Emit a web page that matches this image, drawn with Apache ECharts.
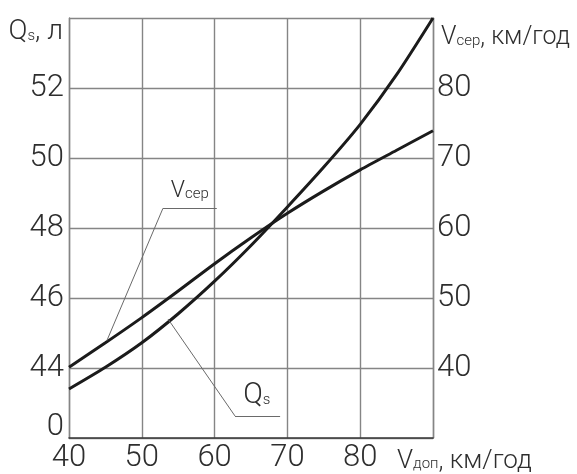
<!DOCTYPE html>
<html>
<head>
<meta charset="utf-8">
<script src="https://cdn.jsdelivr.net/npm/echarts@6/dist/echarts.min.js"></script>
<style>html,body{margin:0;padding:0;background:#fff}#c{width:577px;height:474px}</style>
</head>
<body>
<div id="c"></div>
<script>
// X values: Vдоп, км/год
const vDop = [40, 45, 50, 55, 60, 65, 70, 75, 80, 85, 90];
// Qs, л (left axis)
const qs = [43.4, 44.02, 44.72, 45.55, 46.48, 47.5, 48.6, 49.74, 50.96, 52.38, 54.0];
// Vсер, км/год (right axis)
const vSer = [40.1, 43.6, 47.2, 51.0, 54.9, 58.6, 62.1, 65.3, 68.3, 71.1, 73.9];
// tick labels
const xTickLabels = [40, 50, 60, 70, 80];
const qTickLabels = ['0', 44, 46, 48, 50, 52];
const vTickLabels = [40, 50, 60, 70, 80];

const FONT = "Roboto, 'DejaVu Sans Condensed', sans-serif";
const FW = 300;
const TXT = '#2e2e2e';
const GRID = '#858585';

const chart = echarts.init(document.getElementById('c'), null, {renderer: 'canvas'});
chart.setOption({
  animation: false,
  backgroundColor: '#fff',
  grid: {left: 69, right: 144, top: 18, bottom: 35, containLabel: false},
  xAxis: {
    type: 'value', min: 40, max: 90, interval: 10,
    axisLine: {show: true, lineStyle: {color: '#3a3a3a', width: 1.6}},
    axisTick: {show: false},
    splitLine: {show: true, lineStyle: {color: GRID, width: 1.4}},
    axisLabel: {
      showMaxLabel: false, margin: 5,
      color: TXT, fontFamily: FONT, fontWeight: FW, fontSize: 31,
      formatter: v => xTickLabels.includes(v) ? String(v) : ''
    },
    name: 'V{s|доп}, км/год',
    nameLocation: 'end', nameGap: -36,
    nameTextStyle: {
      color: TXT, fontFamily: FONT, fontWeight: FW, fontSize: 26,
      align: 'left', verticalAlign: 'top', padding: [10, 0, 0, 0],
      rich: {s: {fontSize: 15, fontFamily: FONT, fontWeight: FW, color: TXT, padding: [6, 0, 0, 0]}}
    }
  },
  yAxis: [
    {
      type: 'value', min: 42, max: 54, interval: 2, position: 'left',
      axisLine: {show: true, lineStyle: {color: GRID, width: 1.4}},
      axisTick: {show: false},
      splitLine: {show: true, lineStyle: {color: GRID, width: 1.4}},
      axisLabel: {
        showMaxLabel: false, margin: 5,
        color: TXT, fontFamily: FONT, fontWeight: FW, fontSize: 31,
        formatter: v => {
          const i = [42, 44, 46, 48, 50, 52].indexOf(v);
          if (i < 0) return '';
          return i === 0 ? '{z|' + qTickLabels[0] + '}' : String(qTickLabels[i]);
        },
        rich: {z: {fontSize: 31, fontFamily: FONT, fontWeight: FW, color: TXT, padding: [0, 0, 22, 0]}}
      },
      name: 'Q{s|s}, л',
      nameLocation: 'end', nameGap: -14,
      nameTextStyle: {
        color: TXT, fontFamily: FONT, fontWeight: FW, fontSize: 28,
        align: 'right', verticalAlign: 'middle', padding: [0, 6, 0, 0],
        rich: {s: {fontSize: 15, fontFamily: FONT, fontWeight: FW, color: TXT, padding: [8, 0, 0, 0]}}
      }
    },
    {
      type: 'value', min: 30, max: 90, interval: 10, position: 'right',
      axisLine: {show: true, lineStyle: {color: GRID, width: 1.4}},
      axisTick: {show: false},
      splitLine: {show: false},
      axisLabel: {
        showMaxLabel: false, margin: 4,
        color: TXT, fontFamily: FONT, fontWeight: FW, fontSize: 31,
        formatter: v => vTickLabels.includes(v) ? String(v) : ''
      },
      name: 'V{s|сер}, км/год',
      nameLocation: 'end', nameGap: -20,
      nameTextStyle: {
        color: TXT, fontFamily: FONT, fontWeight: FW, fontSize: 25,
        align: 'left', verticalAlign: 'middle', padding: [0, 0, 0, 8],
        rich: {s: {fontSize: 15, fontFamily: FONT, fontWeight: FW, color: TXT, padding: [6, 0, 0, 0]}}
      }
    }
  ],
  series: [
    {
      name: 'Qs', type: 'line', yAxisIndex: 0, smooth: 0.25, symbol: 'none',
      data: vDop.map((x, i) => [x, qs[i]]),
      lineStyle: {color: '#1b1b1b', width: 3},
      markLine: {
        silent: true, symbol: 'none',
        lineStyle: {color: '#6a6a6a', width: 1, type: 'solid'},
        label: {show: false},
        data: [
          [{coord: [53.6, 45.4]}, {coord: [62.8, 42.63]}],
          [{coord: [62.8, 42.63]}, {coord: [69.0, 42.63]}]
        ]
      },
      markPoint: {
        silent: true, symbol: 'circle', symbolSize: 0,
        data: [{coord: [65.8, 43.2], value: 'Qs'}],
        label: {
          show: true, position: 'inside',
          formatter: '{q|Q}{s|s}',
          rich: {
            q: {fontSize: 29, fontFamily: FONT, fontWeight: FW, color: TXT},
            s: {fontSize: 15, fontFamily: FONT, fontWeight: FW, color: TXT, padding: [8, 0, 0, 0]}
          }
        }
      }
    },
    {
      name: 'Vсер', type: 'line', yAxisIndex: 1, smooth: 0.25, symbol: 'none',
      data: vDop.map((x, i) => [x, vSer[i]]),
      lineStyle: {color: '#1b1b1b', width: 3},
      markLine: {
        silent: true, symbol: 'none',
        lineStyle: {color: '#6a6a6a', width: 1, type: 'solid'},
        label: {show: false},
        data: [
          [{coord: [45.2, 43.9]}, {coord: [52.9, 62.8]}],
          [{coord: [52.9, 62.8]}, {coord: [60.3, 62.8]}]
        ]
      },
      markPoint: {
        silent: true, symbol: 'circle', symbolSize: 0,
        data: [{coord: [56.6, 65.2], value: 'Vсер'}],
        label: {
          show: true, position: 'inside',
          formatter: '{v|V}{s|сер}',
          rich: {
            v: {fontSize: 23, fontFamily: FONT, fontWeight: FW, color: TXT},
            s: {fontSize: 15, fontFamily: FONT, fontWeight: FW, color: TXT, padding: [5, 0, 0, 0]}
          }
        }
      }
    }
  ]
});
</script>
</body>
</html>
